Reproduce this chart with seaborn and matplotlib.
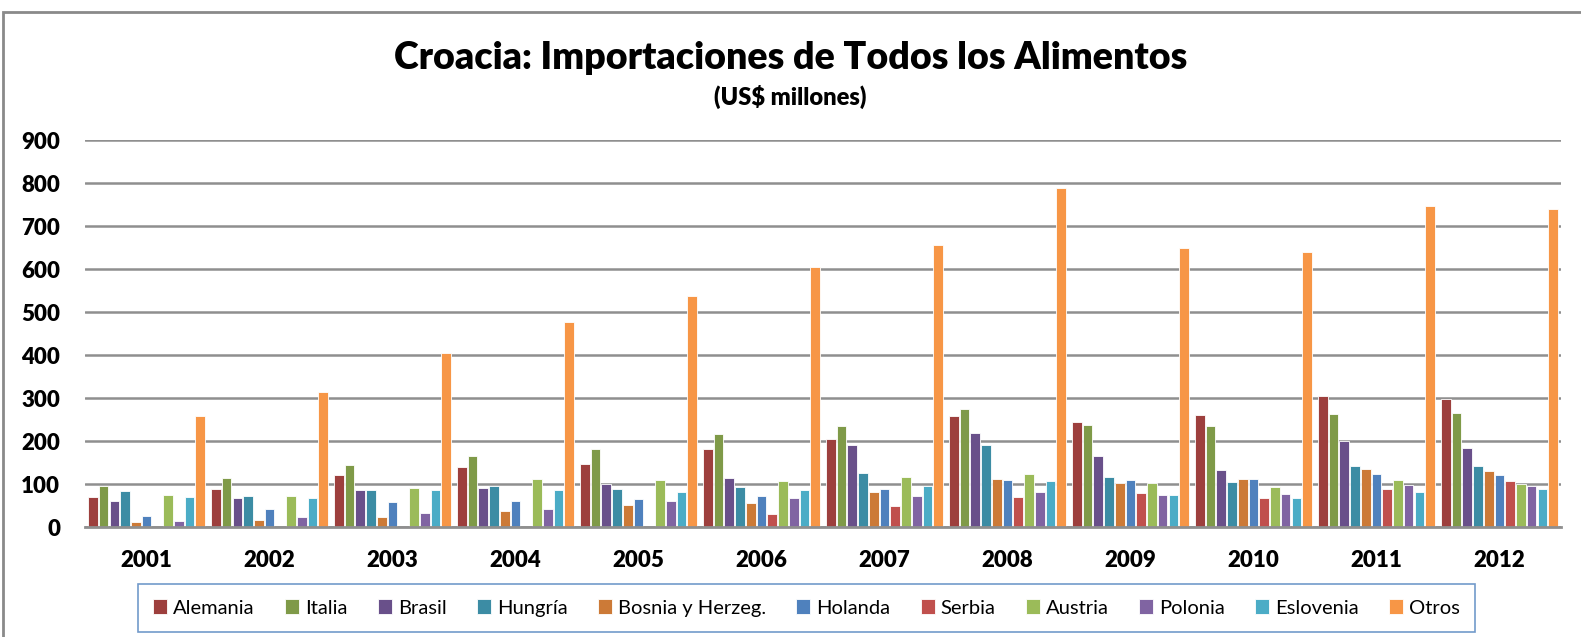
import pandas as pd
import seaborn as sns
import matplotlib.pyplot as plt
from matplotlib.patches import Rectangle

# Values (US$ millones)
years = ['2001', '2002', '2003', '2004', '2005', '2006',
         '2007', '2008', '2009', '2010', '2011', '2012']
countries = ['Alemania', 'Italia', 'Brasil', 'Hungría', 'Bosnia y Herzeg.',
             'Holanda', 'Serbia', 'Austria', 'Polonia', 'Eslovenia', 'Otros']

alemania = [70, 89, 122, 140, 148, 183, 205, 260, 246, 262, 305, 299]
italia = [97, 114, 145, 166, 181, 216, 235, 276, 238, 235, 264, 265]
brasil = [61, 68, 87, 92, 101, 115, 192, 220, 166, 133, 200, 185]
hungria = [85, 73, 86, 97, 89, 93, 126, 191, 117, 105, 143, 142]
bosnia = [12, 17, 25, 38, 52, 57, 82, 112, 103, 112, 135, 130]
holanda = [27, 42, 58, 62, 67, 72, 90, 110, 109, 112, 125, 122]
serbia = [0, 0, 0, 0, 0, 32, 50, 70, 80, 68, 90, 107]
austria = [75, 72, 92, 112, 111, 107, 117, 123, 104, 94, 110, 101]
polonia = [15, 25, 34, 43, 62, 68, 72, 82, 74, 78, 99, 97]
eslovenia = [71, 68, 86, 86, 83, 86, 97, 107, 74, 68, 82, 89]
otros = [258, 315, 405, 477, 538, 605, 657, 788, 649, 640, 748, 740]

palette = ['#9D3F3D', '#7F9A48', '#69508A', '#3C8CA4', '#CC7A37', '#4F81BD',
           '#C0504D', '#9BBB59', '#8064A2', '#4BACC6', '#F79646']


def main():
    series = [alemania, italia, brasil, hungria, bosnia, holanda,
              serbia, austria, polonia, eslovenia, otros]
    rows = []
    for name, vals in zip(countries, series):
        for y, v in zip(years, vals):
            rows.append({'year': y, 'country': name, 'value': v})
    df = pd.DataFrame(rows)

    sns.set_style('white')
    plt.rcParams['font.family'] = ['Lato', 'DejaVu Sans']
    plt.rcParams['text.color'] = 'black'
    plt.rcParams['xtick.color'] = 'black'
    plt.rcParams['ytick.color'] = 'black'

    fig = plt.figure(figsize=(15.81, 6.37), dpi=100)
    ax = fig.add_axes([0.0538, 0.1722, 0.9335, 0.6075])

    sns.barplot(data=df, x='year', y='value', hue='country', order=years,
                hue_order=countries, palette=palette, width=0.96, gap=0.1,
                edgecolor='white', linewidth=0.6, saturation=1, ax=ax,
                legend=True)

    ax.set_ylim(0, 900)
    ax.set_yticks(range(0, 901, 100))
    ax.yaxis.grid(True, color='#8f8f8f', linewidth=1.8)
    ax.set_axisbelow(True)
    ax.set_xlabel('')
    ax.set_ylabel('')
    for s in ['top', 'right', 'left']:
        ax.spines[s].set_visible(False)
    ax.spines['bottom'].set_color('#8f8f8f')
    ax.spines['bottom'].set_linewidth(2)
    ax.tick_params(axis='y', length=0, pad=18, labelsize=16)
    ax.tick_params(axis='x', length=0, pad=16, labelsize=16)
    for lbl in ax.get_xticklabels() + ax.get_yticklabels():
        lbl.set_fontweight('heavy')

    ax.get_legend().remove()
    handles, labels = ax.get_legend_handles_labels()
    leg = fig.legend(handles, labels, loc='center', ncol=11,
                     bbox_to_anchor=(0.5102, 1 - 608 / 637), fontsize=14.5,
                     frameon=True, fancybox=False, edgecolor='#4F81BD',
                     handlelength=0.7, handleheight=0.7, handletextpad=0.3,
                     columnspacing=1.5, borderpad=0.75)
    leg.get_frame().set_linewidth(1.2)

    fig.text(0.5, 1 - 58 / 637, 'Croacia: Importaciones de Todos los Alimentos',
             ha='center', va='center', fontsize=27, fontweight='heavy')
    fig.text(0.5, 1 - 97 / 637, '(US$ millones)', ha='center', va='center',
             fontsize=17, fontweight='heavy')

    # outer chart border
    fig.patches.append(Rectangle((3 / 1581, -0.1), 1.2, 1 - 12 / 637 + 0.1,
                                 transform=fig.transFigure, fill=False,
                                 edgecolor='#8a8a8a', linewidth=2))

    fig.savefig('out.png', dpi=100)
    plt.close(fig)


if __name__ == "__main__":
    main()
